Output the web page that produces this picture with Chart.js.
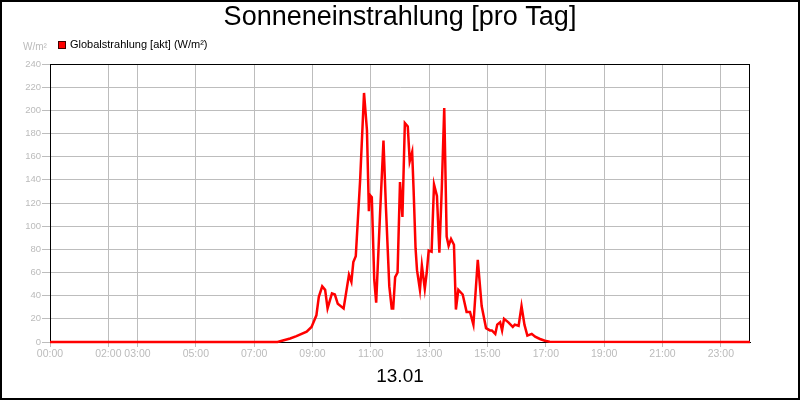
<!DOCTYPE html>
<html>
<head>
<meta charset="utf-8">
<script src="https://cdn.jsdelivr.net/npm/chart.js@4/dist/chart.umd.min.js"></script>
<style>
  html, body { margin: 0; padding: 0; background: #fff; }
  #wrap { width: 800px; height: 400px; position: relative; }
</style>
</head>
<body>
<div id="wrap"><canvas id="chart"></canvas></div>
<script>
// readings (time of day, W/m²)
const times = [
  "00:00", "07:48", "08:14", "08:27", "08:48", "08:58", "09:01", "09:08", "09:13", "09:20",
  "09:26", "09:31", "09:40", "09:46", "09:52", "10:04", "10:15", "10:20", "10:24", "10:29",
  "10:38", "10:46", "10:52", "10:56", "10:58", "11:02", "11:07", "11:11", "11:19", "11:26",
  "11:31", "11:38", "11:43", "11:46", "11:50", "11:55", "12:00", "12:05", "12:10", "12:16",
  "12:20", "12:25", "12:28", "12:32", "12:35", "12:41", "12:45", "12:51", "12:55", "12:59",
  "13:05", "13:10", "13:16", "13:21", "13:26", "13:31", "13:36", "13:40", "13:45", "13:51",
  "13:55", "14:00", "14:09", "14:17", "14:24", "14:31", "14:40", "14:48", "14:57", "15:05",
  "15:09", "15:16", "15:20", "15:26", "15:30", "15:34", "15:43", "15:52", "15:56", "16:04",
  "16:10", "16:16", "16:22", "16:31", "16:38", "16:48", "16:58", "17:08", "24:00"
];
const values = [
  0, 0, 3, 5, 9, 13, 16, 23, 39, 48,
  45, 29, 42, 41, 33, 29, 58, 52, 69, 74,
  140, 215, 183, 113, 127, 125, 54, 34, 111, 174,
  117, 48, 29, 29, 56, 60, 138, 108, 189, 186,
  156, 164, 131, 81, 62, 45, 66, 46, 60, 79,
  78, 136, 126, 77, 133, 202, 91, 83, 89, 84,
  28, 45, 41, 26, 26, 15, 71, 31, 12, 10,
  10, 7, 15, 17, 10, 20, 17, 13, 15, 14,
  31, 15, 5.5, 7, 4.6, 2.6, 1.1, 0.3, 0
];
const labeledHours = [0, 2, 3, 5, 7, 9, 11, 13, 15, 17, 19, 21, 23];
const yMin = 0, yMax = 240, yStep = 20;

const titleText = "Sonneneinstrahlung [pro Tag]";
const seriesLabel = "Globalstrahlung [akt] (W/m²)";
const unitLabel = "W/m²";
const dateLabel = "13.01";

const FONT = "'Liberation Sans', Arial, sans-serif";
const GRID = "#bdbdbd";

function toHours(s) {
  const [h, m] = s.split(":").map(Number);
  return h + m / 60;
}
function pad2(n) { return String(n).padStart(2, "0"); }

const points = times.map((t, i) => ({ x: toHours(t), y: values[i] }));

const decorPlugin = {
  id: "decor",
  beforeDraw(chart) {
    const ctx = chart.ctx;
    ctx.save();
    ctx.fillStyle = "#fff";
    ctx.fillRect(0, 0, chart.width, chart.height);
    ctx.restore();
  },
  beforeDatasetsDraw(chart) {
    const { left, top, right, bottom } = chart.chartArea;
    const ctx = chart.ctx;
    ctx.save();
    ctx.strokeStyle = "#000";
    ctx.lineWidth = 1;
    ctx.strokeRect(Math.round(left) + 0.5, Math.round(top) + 0.5,
      Math.round(right - left) - 1, Math.round(bottom - top));
    ctx.restore();
  },
  afterDraw(chart) {
    const ctx = chart.ctx;
    ctx.save();
    // outer border
    ctx.strokeStyle = "#000";
    ctx.lineWidth = 2;
    ctx.strokeRect(1, 1, chart.width - 2, chart.height - 2);
    // legend
    ctx.fillStyle = "#ff0000";
    ctx.fillRect(58, 41, 8, 8);
    ctx.lineWidth = 1;
    ctx.strokeStyle = "#400000";
    ctx.strokeRect(58.5, 41.5, 7, 7);
    ctx.fillStyle = "#000";
    ctx.font = "11px " + FONT;
    ctx.textBaseline = "middle";
    ctx.textAlign = "left";
    ctx.fillText(seriesLabel, 70, 45);
    // unit label
    ctx.fillStyle = "#bbbbbb";
    ctx.font = "10px " + FONT;
    ctx.fillText(unitLabel, 23, 47);
    ctx.restore();
  }
};

new Chart(document.getElementById("chart"), {
  type: "line",
  data: {
    datasets: [
      {
        label: seriesLabel,
        data: points,
        borderColor: "#ff0000",
        borderWidth: 2.5,
        pointRadius: 0,
        tension: 0,
        fill: false,
        clip: false
      }
    ]
  },
  options: {
    responsive: true,
    maintainAspectRatio: false,
    animation: false,
    layout: { padding: { left: 25, right: 25, top: 0, bottom: 0 } },
    plugins: {
      legend: { display: false },
      tooltip: { enabled: false },
      title: {
        display: true,
        text: titleText,
        color: "#000",
        font: { family: FONT, size: 27, weight: "normal", lineHeight: 1.2 },
        padding: { top: 1.4, bottom: 30.2 }
      }
    },
    scales: {
      x: {
        type: "linear",
        min: 0,
        max: 24,
        afterFit(scale) { scale.height = 58; },
        border: { color: "#000", width: 1 },
        grid: { color: GRID, tickColor: GRID, tickLength: 5, drawTicks: true },
        ticks: {
          stepSize: 1,
          autoSkip: false,
          maxRotation: 0,
          padding: 1,
          color: "#bbbbbb",
          font: { family: FONT, size: 10.5 },
          callback: v => labeledHours.includes(v) ? pad2(v) + ":00" : null
        },
        title: {
          display: true,
          text: dateLabel,
          color: "#000",
          font: { family: FONT, size: 19, lineHeight: 1.2 },
          padding: { top: 0, bottom: 12 }
        }
      },
      y: {
        min: yMin,
        max: yMax,
        afterFit(scale) { scale.width = 25; },
        border: { color: "#000", width: 1 },
        grid: { color: GRID, tickColor: GRID, tickLength: 8, drawTicks: true },
        ticks: {
          stepSize: yStep,
          padding: 1,
          color: "#bbbbbb",
          font: { family: FONT, size: 9.5 }
        }
      },
      yRight: {
        position: "right",
        min: yMin,
        max: yMax,
        afterFit(scale) { scale.width = 25; },
        border: { display: false },
        grid: { display: false, drawTicks: false },
        ticks: { display: false }
      }
    }
  },
  plugins: [decorPlugin]
});
</script>
</body>
</html>
